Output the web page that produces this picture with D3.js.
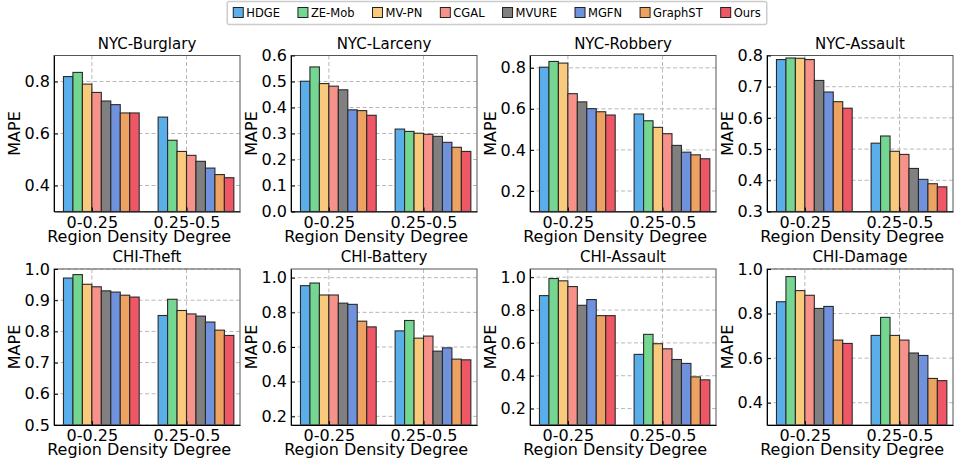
<!DOCTYPE html>
<html>
<head>
<meta charset="utf-8">
<script src="https://cdn.jsdelivr.net/npm/d3@7"></script>
<style>
  body { margin: 0; background: #fff; }
  text { font-family: "DejaVu Sans", sans-serif; fill: #000; }
</style>
</head>
<body>
<svg id="chart" width="956" height="464"></svg>
<script>
// methods and their colours
const methods = ["HDGE", "ZE-Mob", "MV-PN", "CGAL", "MVURE", "MGFN", "GraphST", "Ours"];
const colors = ["#5aaeea", "#74d690", "#f9c97c", "#f6928a", "#808080", "#7092dd", "#eea262", "#ef5666"];
const groups = ["0-0.25", "0.25-0.5"];

const titles = ["NYC-Burglary", "NYC-Larceny", "NYC-Robbery", "NYC-Assault",
  "CHI-Theft", "CHI-Battery", "CHI-Assault", "CHI-Damage"];

// MAPE per density group, one row per group, in method order
const nycBurglary = [
  [0.819, 0.835, 0.790, 0.758, 0.725, 0.711, 0.679, 0.679],
  [0.663, 0.574, 0.531, 0.516, 0.493, 0.467, 0.442, 0.430]
];
const nycLarceny = [
  [0.501, 0.556, 0.492, 0.482, 0.468, 0.391, 0.388, 0.370],
  [0.317, 0.308, 0.301, 0.297, 0.289, 0.266, 0.247, 0.231]
];
const nycRobbery = [
  [0.803, 0.831, 0.823, 0.674, 0.634, 0.601, 0.586, 0.570],
  [0.575, 0.542, 0.510, 0.479, 0.422, 0.389, 0.376, 0.357]
];
const nycAssault = [
  [0.787, 0.792, 0.791, 0.787, 0.720, 0.683, 0.652, 0.631],
  [0.519, 0.542, 0.493, 0.483, 0.438, 0.403, 0.389, 0.379]
];
const chiTheft = [
  [0.971, 0.982, 0.951, 0.943, 0.930, 0.926, 0.916, 0.910],
  [0.851, 0.903, 0.867, 0.856, 0.849, 0.830, 0.804, 0.787]
];
const chiBattery = [
  [0.954, 0.969, 0.900, 0.900, 0.853, 0.846, 0.749, 0.716],
  [0.693, 0.753, 0.651, 0.663, 0.576, 0.595, 0.530, 0.526]
];
const chiAssault = [
  [0.888, 0.992, 0.978, 0.943, 0.829, 0.864, 0.766, 0.766],
  [0.530, 0.652, 0.595, 0.564, 0.499, 0.475, 0.393, 0.375]
];
const chiDamage = [
  [0.853, 0.966, 0.903, 0.882, 0.823, 0.832, 0.681, 0.666],
  [0.702, 0.783, 0.702, 0.681, 0.623, 0.612, 0.509, 0.499]
];
const panelData = [nycBurglary, nycLarceny, nycRobbery, nycAssault,
  chiTheft, chiBattery, chiAssault, chiDamage];

const yLimits = [[0.3, 0.9], [0, 0.6], [0.1, 0.86], [0.3, 0.8],
  [0.5, 1.0], [0.15, 1.05], [0.1, 1.05], [0.3, 1.0]];
const yTicks = [
  [0.4, 0.6, 0.8],
  [0.0, 0.1, 0.2, 0.3, 0.4, 0.5, 0.6],
  [0.2, 0.4, 0.6, 0.8],
  [0.3, 0.4, 0.5, 0.6, 0.7, 0.8],
  [0.5, 0.6, 0.7, 0.8, 0.9, 1.0],
  [0.2, 0.4, 0.6, 0.8, 1.0],
  [0.2, 0.4, 0.6, 0.8, 1.0],
  [0.4, 0.6, 0.8, 1.0]
];

const svg = d3.select("#chart");
const colLeft = [54, 291, 530, 767];
const rowTop = [55.5, 269];
const panelW = 186;
const panelH = 156;
const barW = 0.1;

const x = d3.scaleLinear().domain([-0.4, 1.565]).range([0, panelW]);

panelData.forEach((data, k) => {
  const row = Math.floor(k / 4);
  const col = k % 4;
  const g = svg.append("g")
    .attr("transform", `translate(${colLeft[col]},${rowTop[row]})`);

  const y = d3.scaleLinear().domain(yLimits[k]).range([panelH, 0]);

  // grid
  g.append("g").selectAll("line.hg")
    .data(yTicks[k])
    .join("line")
    .attr("x1", 0).attr("x2", panelW)
    .attr("y1", (d) => y(d)).attr("y2", (d) => y(d))
    .attr("stroke", "#b8b8b8").attr("stroke-width", 1)
    .attr("stroke-dasharray", "4,2.5");
  g.append("g").selectAll("line.vg")
    .data([0, 1])
    .join("line")
    .attr("x1", (d) => x(d)).attr("x2", (d) => x(d))
    .attr("y1", 0).attr("y2", panelH)
    .attr("stroke", "#b8b8b8").attr("stroke-width", 1)
    .attr("stroke-dasharray", "4,2.5");

  // bars
  data.forEach((vals, gi) => {
    g.append("g").selectAll("rect")
      .data(vals)
      .join("rect")
      .attr("x", (d, i) => x(gi + (i - 3) * barW))
      .attr("width", x(barW) - x(0))
      .attr("y", (d) => y(d))
      .attr("height", (d) => panelH - y(d))
      .attr("fill", (d, i) => colors[i])
      .attr("stroke", "#2a2a2a")
      .attr("stroke-width", 1.1);
  });

  // frame
  g.append("rect")
    .attr("width", panelW).attr("height", panelH)
    .attr("fill", "none").attr("stroke", "#555").attr("stroke-width", 1);

  const yAxis = g.append("g")
    .call(d3.axisLeft(y).tickValues(yTicks[k]).tickFormat(d3.format(".1f"))
      .tickSizeInner(-4).tickSizeOuter(0).tickPadding(4));
  yAxis.select(".domain").attr("stroke", "#000");
  yAxis.selectAll("text").style("font-size", "16px");

  const xAxis = g.append("g")
    .attr("transform", `translate(0,${panelH})`)
    .call(d3.axisBottom(x).tickValues([0, 1]).tickFormat((d) => groups[d])
      .tickSizeInner(-4).tickSizeOuter(0).tickPadding(5));
  xAxis.select(".domain").attr("stroke", "#000");
  xAxis.selectAll("text").style("font-size", "16px");

  g.append("text")
    .attr("x", panelW / 2).attr("y", -7)
    .attr("text-anchor", "middle")
    .style("font-size", "15px")
    .text(titles[k]);

  g.append("text")
    .attr("x", x(0.5)).attr("y", panelH + 30)
    .attr("text-anchor", "middle")
    .style("font-size", "16px")
    .text("Region Density Degree");

  g.append("text")
    .attr("transform", `translate(-34,${panelH / 2}) rotate(-90)`)
    .attr("text-anchor", "middle")
    .style("font-size", "16px")
    .text("MAPE");
});

// legend
const legend = svg.append("g");
const box = legend.append("rect")
  .attr("y", 1.5).attr("height", 23).attr("rx", 2)
  .attr("fill", "#fff").attr("stroke", "#cccccc").attr("stroke-width", 1.5);
let lx = 6;
methods.forEach((m, i) => {
  const item = legend.append("g").attr("transform", `translate(${lx},0)`);
  item.append("rect")
    .attr("x", 0).attr("y", 7.5).attr("width", 10).attr("height", 10)
    .attr("fill", colors[i]).attr("stroke", "#222").attr("stroke-width", 1);
  const t = item.append("text")
    .attr("x", 13).attr("y", 17)
    .style("font-size", "11.5px")
    .text(m);
  lx += 13 + t.node().getComputedTextLength() + 18;
});
const legendW = lx - 18 + 6;
box.attr("x", 0).attr("width", legendW);
legend.attr("transform", `translate(${497 - legendW / 2},0)`);
</script>
</body>
</html>
